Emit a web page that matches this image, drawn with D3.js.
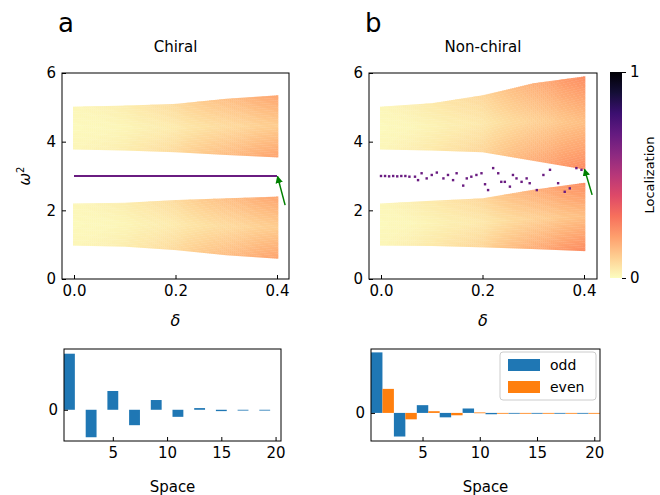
<!DOCTYPE html>
<html><head><meta charset="utf-8">
<script src="https://cdn.jsdelivr.net/npm/d3@7"></script>
<style>body{margin:0;background:#fff}text{font-family:"DejaVu Sans",sans-serif}</style>
</head><body><svg id="c" width="660" height="495"></svg>
<script>
// Band envelopes read at these disorder strengths
var deltas = [0, 0.1, 0.2, 0.3, 0.4];
var chiralUpTop = [5.02, 5.05, 5.1, 5.25, 5.35];
var chiralUpBot = [3.78, 3.75, 3.7, 3.62, 3.55];
var chiralLoTop = [2.2, 2.22, 2.3, 2.35, 2.4];
var chiralLoBot = [0.98, 0.95, 0.85, 0.7, 0.6];
var nonUpTop = [5.02, 5.12, 5.35, 5.7, 5.9];
var nonUpBot = [3.78, 3.75, 3.7, 3.45, 3.2];
var nonLoTop = [2.2, 2.28, 2.35, 2.6, 2.8];
var nonLoBot = [0.98, 0.97, 0.93, 0.88, 0.82];
var chiralLoc = [0.01, 0.02, 0.045, 0.08, 0.11];
var nonLoc = [0.01, 0.025, 0.05, 0.1, 0.14];

// Gap (edge) modes in the non-chiral case
var gapDelta = [0, 0.008, 0.016, 0.024, 0.032, 0.04, 0.048, 0.056, 0.067, 0.073, 0.08, 0.09, 0.1, 0.11, 0.123, 0.132, 0.142, 0.149, 0.162, 0.169, 0.178, 0.188, 0.198, 0.205, 0.211, 0.221, 0.231, 0.237, 0.244, 0.254, 0.26, 0.267, 0.277, 0.287, 0.293, 0.307, 0.32, 0.333, 0.349, 0.362, 0.372, 0.385, 0.395];
var gapW2 = [3.0, 3.0, 2.99, 3.0, 2.99, 3.0, 3.0, 2.98, 2.98, 2.88, 3.08, 2.93, 3.03, 3.1, 2.93, 3.03, 2.88, 3.08, 2.72, 2.93, 2.98, 3.03, 3.08, 2.76, 2.59, 3.23, 3.08, 2.83, 2.83, 2.69, 3.03, 2.93, 2.83, 2.93, 2.79, 2.59, 3.03, 3.18, 2.79, 2.54, 2.64, 3.23, 3.18];

// Bottom: mode profiles
var oddSites = [1, 3, 5, 7, 9, 11, 13, 15, 17, 19];
var evenSites = [2, 4, 6, 8, 10, 12, 14, 16, 18, 20];
var chiralOdd = [1, -0.49, 0.335, -0.275, 0.174, -0.126, 0.03, -0.024, -0.006, -0.006];
var nonOdd = [1, -0.39, 0.128, -0.073, 0.073, -0.022, -0.006, -0.006, -0.005, -0.005];
var nonEven = [0.397, -0.106, 0.028, -0.039, 0.008, -0.006, -0.006, -0.006, -0.004, -0.003];

var svg = d3.select("#c");
var color = function(t){ return d3.interpolateMagma(1 - 0.95*Math.min(1, t)); };
var blue = "#1f77b4", orange = "#ff7f0e";

svg.append("defs").append("marker").attr("id","arr").attr("viewBox","0 0 10 10")
  .attr("refX",9).attr("refY",5).attr("markerWidth",5).attr("markerHeight",5).attr("orient","auto-start-reverse")
  .append("path").attr("d","M0,0L10,5L0,10z").attr("fill","green");

function inTicks(g){ g.selectAll(".tick line").attr("stroke","#000"); g.select(".domain").remove(); }

function topPanel(x0, x1, dx0, dx1, bands, loc, title, letter, gap, arrowTip, arrowTail) {
  var x = d3.scaleLinear().range([x0, x1])
    .domain([-(dx0 - x0) * 0.4 / (dx1 - dx0), 0.4 + (x1 - dx1) * 0.4 / (dx1 - dx0)]);
  var y = d3.scaleLinear().domain([0, 6]).range([279, 73]);
  var g = svg.append("g");
  var interp = function(arr, d){ return d3.scaleLinear().domain(deltas).range(arr)(d); };
  var dw = 0.004, hw = 0.05;
  bands.forEach(function(b){
    for (var d = 0; d <= 0.4 + 1e-9; d += dw) {
      var top = interp(b[0], d), bot = interp(b[1], d), L = interp(loc, d);
      for (var w = bot; w < top; w += hw) {
        var edge = Math.min(w - bot, top - w) / (top - bot);
        var t = L * (1 + (0.5 - edge) * 1.6);
        g.append("rect").attr("x", x(d) - 1).attr("y", y(Math.min(top, w + hw)))
          .attr("width", x(d + dw) - x(d) + 0.3).attr("height", y(w) - y(Math.min(top, w + hw)) + 0.3)
          .attr("fill", color(t));
      }
    }
  });
  gap(g, x, y);
  svg.append("line").attr("x1", x(arrowTail[0])).attr("y1", y(arrowTail[1]))
    .attr("x2", x(arrowTip[0])).attr("y2", y(arrowTip[1])).attr("stroke","green").attr("stroke-width",1.5)
    .attr("marker-end","url(#arr)");
  svg.append("rect").attr("x", x0).attr("y", 73).attr("width", x1 - x0).attr("height", 206)
    .attr("fill","none").attr("stroke","#000").attr("stroke-width",1);
  svg.append("g").attr("transform","translate(0,279)").call(d3.axisBottom(x).tickValues([0,0.2,0.4]).tickFormat(d3.format(".1f")).tickSize(-4).tickPadding(6))
    .call(inTicks).selectAll("text").attr("font-size",15);
  svg.append("g").attr("transform","translate("+x0+",0)").call(d3.axisLeft(y).tickValues([0,2,4,6]).tickFormat(d3.format("d")).tickSize(-4).tickPadding(6))
    .call(inTicks).selectAll("text").attr("font-size",15);
  svg.append("text").attr("x", (x0 + x1) / 2).attr("y", 52).attr("text-anchor","middle").attr("font-size",15).text(title);
  svg.append("text").attr("x", x0 - 4).attr("y", 32).attr("font-size",26).text(letter);
  svg.append("text").attr("x", (x0 + x1) / 2).attr("y", 326).attr("text-anchor","middle")
    .attr("font-size",16).attr("font-style","italic").attr("font-family","DejaVu Serif").text("δ");
}

topPanel(62, 289, 74, 277,
  [[chiralUpTop, chiralUpBot], [chiralLoTop, chiralLoBot]], chiralLoc, "Chiral", "a",
  function(g, x, y){
    g.append("line").attr("x1", x(0)).attr("x2", x(0.4)).attr("y1", y(3)).attr("y2", y(3))
      .attr("stroke", color(0.72)).attr("stroke-width", 2.2);
  }, [0.401, 2.99], [0.416, 2.15]);

topPanel(369, 597, 381, 584,
  [[nonUpTop, nonUpBot], [nonLoTop, nonLoBot]], nonLoc, "Non-chiral", "b",
  function(g, x, y){
    g.selectAll(".gp").data(gapDelta).enter().append("rect")
      .attr("x", function(d){ return x(d) - 1.2; }).attr("y", function(d, i){ return y(gapW2[i]) - 1.2; })
      .attr("width", 2.4).attr("height", 2.4).attr("fill", color(0.72));
  }, [0.401, 3.2], [0.416, 2.45]);

// y label
svg.append("text").attr("transform","translate(30,176) rotate(-90)").attr("text-anchor","middle")
  .attr("font-size",15).attr("font-family","DejaVu Serif").attr("font-style","italic")
  .html('ω<tspan dy="-6" font-size="10" font-style="normal">2</tspan>');

// colorbar
var cb = d3.scaleLinear().domain([0, 1]).range([278, 72]);
var grad = svg.select("defs").append("linearGradient").attr("id","cbg").attr("x1",0).attr("x2",0).attr("y1",1).attr("y2",0);
d3.range(0, 1.01, 0.1).forEach(function(t){ grad.append("stop").attr("offset", t).attr("stop-color", d3.interpolateMagma(1 - t)); });
svg.append("rect").attr("x",610).attr("y",72).attr("width",12).attr("height",206).attr("fill","url(#cbg)");
svg.append("g").attr("transform","translate(622,0)").call(d3.axisRight(cb).tickValues([0,1]).tickFormat(d3.format("d")).tickSize(4).tickPadding(4))
  .call(function(g){ g.select(".domain").remove(); }).selectAll("text").attr("font-size",15);
svg.append("text").attr("transform","translate(654,175) rotate(-90)").attr("text-anchor","middle").attr("font-size",13).text("Localization");

function bottomPanel(x0, x1, ydom, series) {
  var x = d3.scaleLinear().domain([0.5, 20.5]).range([x0, x1]);
  var y = d3.scaleLinear().domain(ydom).range([441, 349]);
  series.forEach(function(s){
    svg.append("g").selectAll("rect").data(s.vals).enter().append("rect")
      .attr("x", function(d, i){ return x(s.sites[i] - 0.5); })
      .attr("width", x(1.5) - x(0.5))
      .attr("y", function(d){ return y(Math.max(0, d)); })
      .attr("height", function(d){ return Math.max(0.8, Math.abs(y(d) - y(0))); })
      .attr("fill", s.color);
  });
  svg.append("rect").attr("x", x0).attr("y", 349).attr("width", x1 - x0).attr("height", 92)
    .attr("fill","none").attr("stroke","#000");
  svg.append("g").attr("transform","translate(0,441)").call(d3.axisBottom(x).tickValues([5,10,15,20]).tickSize(-4).tickPadding(6))
    .call(inTicks).selectAll("text").attr("font-size",15);
  svg.append("g").attr("transform","translate("+x0+",0)").call(d3.axisLeft(y).tickValues([0]).tickFormat(d3.format("d")).tickSize(-4).tickPadding(6))
    .call(inTicks).selectAll("text").attr("font-size",15);
  svg.append("text").attr("x", (x0 + x1) / 2).attr("y", 492).attr("text-anchor","middle").attr("font-size",15).text("Space");
}
bottomPanel(64, 281, [-0.557, 1.084], [{sites: oddSites, vals: chiralOdd, color: blue}]);
bottomPanel(371, 600, [-0.464, 1.056], [{sites: oddSites, vals: nonOdd, color: blue}, {sites: evenSites, vals: nonEven, color: orange}]);

// legend
var lg = svg.append("g").attr("transform","translate(500,352)");
lg.append("rect").attr("width",96).attr("height",48).attr("rx",3).attr("fill","#fff").attr("stroke","#ccc");
[["odd", blue], ["even", orange]].forEach(function(e, i){
  lg.append("rect").attr("x",8).attr("y",7 + i*22).attr("width",32).attr("height",12).attr("fill", e[1]);
  lg.append("text").attr("x",50).attr("y",18 + i*22).attr("font-size",14).text(e[0]);
});
</script></body></html>
